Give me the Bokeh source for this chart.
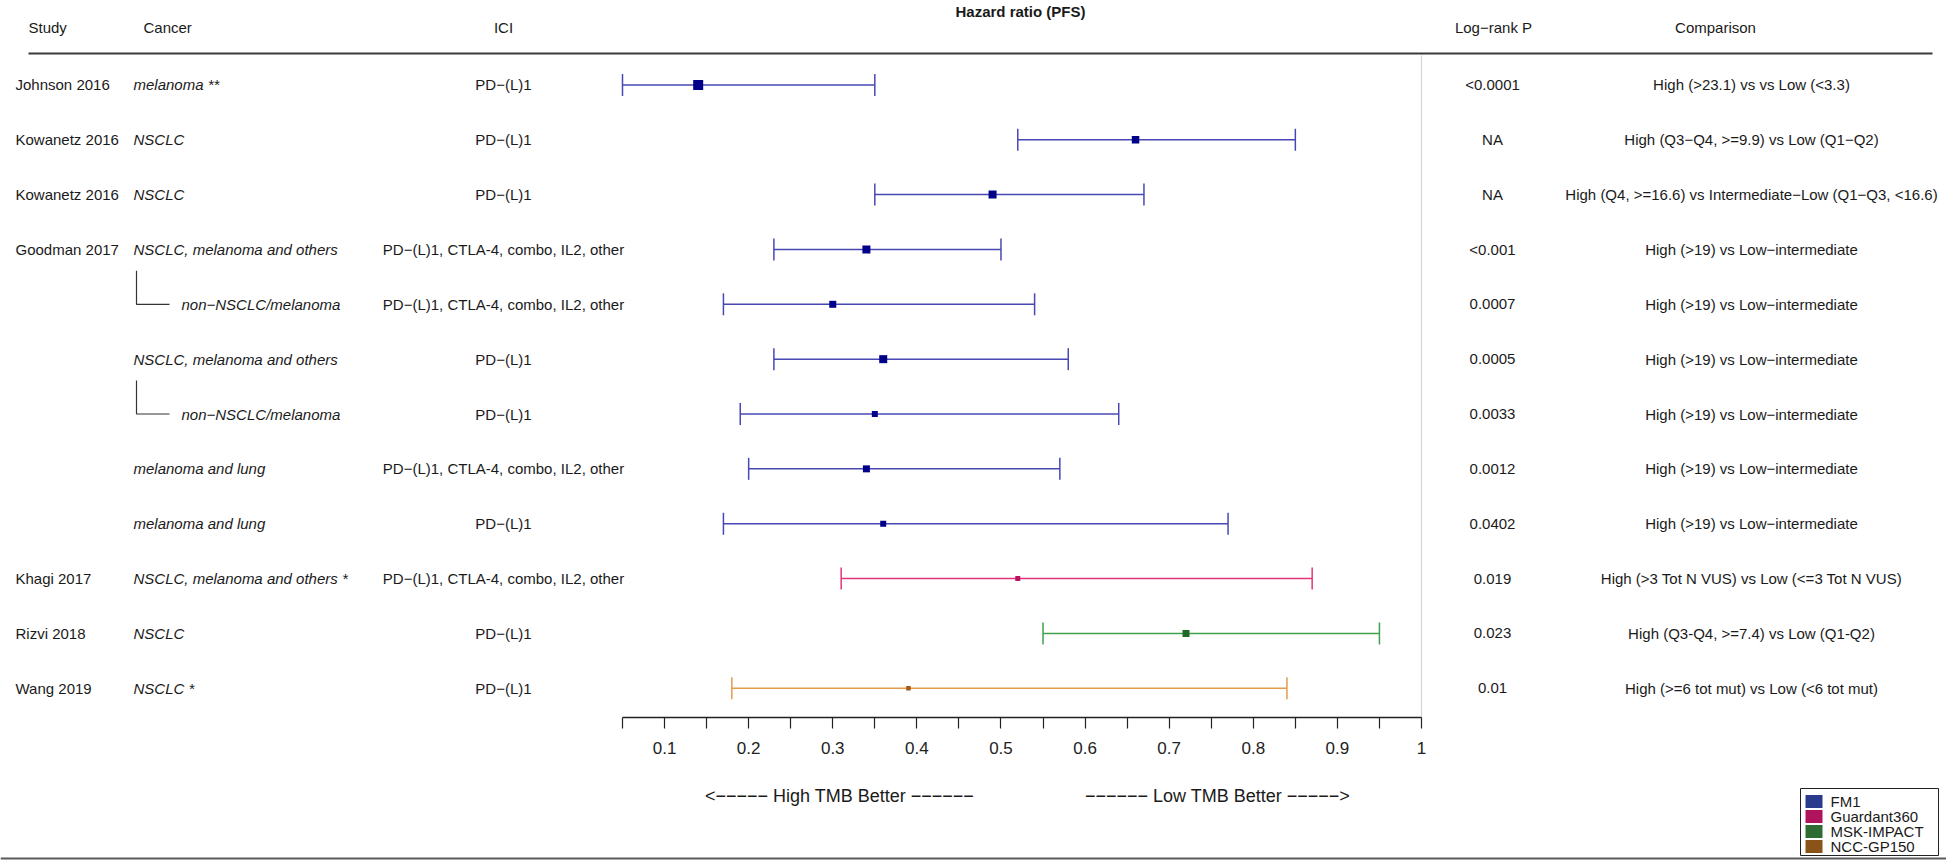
from bokeh.plotting import figure
from bokeh.models import (ColumnDataSource, Range1d, LinearAxis, FixedTicker,
                          CustomJSTickFormatter)
from bokeh.layouts import column
from bokeh.embed import file_html
from bokeh.resources import INLINE
from bokeh.core.properties import value

# ---------------- data ----------------
study = ["Johnson 2016", "Kowanetz 2016", "Kowanetz 2016", "Goodman 2017", "", "", "", "", "",
         "Khagi 2017", "Rizvi 2018", "Wang 2019"]
cancer = ["melanoma **", "NSCLC", "NSCLC", "NSCLC, melanoma and others", "non\u2212NSCLC/melanoma",
          "NSCLC, melanoma and others", "non\u2212NSCLC/melanoma", "melanoma and lung",
          "melanoma and lung", "NSCLC, melanoma and others *", "NSCLC", "NSCLC *"]
subgroup = [False, False, False, False, True, False, True, False, False, False, False, False]
ici = ["PD\u2212(L)1", "PD\u2212(L)1", "PD\u2212(L)1",
       "PD\u2212(L)1, CTLA-4, combo, IL2, other", "PD\u2212(L)1, CTLA-4, combo, IL2, other",
       "PD\u2212(L)1", "PD\u2212(L)1", "PD\u2212(L)1, CTLA-4, combo, IL2, other", "PD\u2212(L)1",
       "PD\u2212(L)1, CTLA-4, combo, IL2, other", "PD\u2212(L)1", "PD\u2212(L)1"]
hr = [0.14, 0.66, 0.49, 0.34, 0.30, 0.36, 0.35, 0.34, 0.36, 0.52, 0.72, 0.39]
lower = [0.05, 0.52, 0.35, 0.23, 0.17, 0.23, 0.19, 0.20, 0.17, 0.31, 0.55, 0.18]
upper = [0.35, 0.85, 0.67, 0.50, 0.54, 0.58, 0.64, 0.57, 0.77, 0.87, 0.95, 0.84]
pvalue = ["<0.0001", "NA", "NA", "<0.001", "0.0007", "0.0005", "0.0033", "0.0012", "0.0402",
          "0.019", "0.023", "0.01"]
comparison = ["High (>23.1) vs vs Low (<3.3)",
              "High (Q3\u2212Q4, >=9.9) vs Low (Q1\u2212Q2)",
              "High (Q4, >=16.6) vs Intermediate\u2212Low (Q1\u2212Q3, <16.6)",
              "High (>19) vs Low\u2212intermediate", "High (>19) vs Low\u2212intermediate",
              "High (>19) vs Low\u2212intermediate", "High (>19) vs Low\u2212intermediate",
              "High (>19) vs Low\u2212intermediate", "High (>19) vs Low\u2212intermediate",
              "High (>3 Tot N VUS) vs Low (<=3 Tot N VUS)",
              "High (Q3-Q4, >=7.4) vs Low (Q1-Q2)",
              "High (>=6 tot mut) vs Low (<6 tot mut)"]
panel = ["FM1"] * 9 + ["Guardant360", "MSK-IMPACT", "NCC-GP150"]
panels = ["FM1", "Guardant360", "MSK-IMPACT", "NCC-GP150"]
headers = ["Study", "Cancer", "ICI", "Log\u2212rank P", "Comparison"]
plot_title = "Hazard ratio (PFS)"
tick_values = [0.1, 0.2, 0.3, 0.4, 0.5, 0.6, 0.7, 0.8, 0.9, 1.0]
tick_labels = ["0.1", "0.2", "0.3", "0.4", "0.5", "0.6", "0.7", "0.8", "0.9", "1"]
minor_tick_values = [0.05, 0.15, 0.25, 0.35, 0.45, 0.55, 0.65, 0.75, 0.85, 0.95]
axis_bounds = (0.05, 1.0)
null_hr = 1.0
arrow_labels = ["<\u2212\u2212\u2212\u2212\u2212  High TMB Better  \u2212\u2212\u2212\u2212\u2212\u2212",
                "\u2212\u2212\u2212\u2212\u2212\u2212  Low TMB Better  \u2212\u2212\u2212\u2212\u2212>"]

# ---------------- styles ----------------
FONT = "Liberation Sans"
TXT = "#1a1a1a"
line_colors = {"FM1": "#4848B4", "Guardant360": "#E2357C", "MSK-IMPACT": "#3FA24A", "NCC-GP150": "#E69A4C"}
box_colors = {"FM1": "#000088", "Guardant360": "#B3155E", "MSK-IMPACT": "#1D6B25", "NCC-GP150": "#A35A14"}
legend_colors = {"FM1": "#2A3A8C", "Guardant360": "#AF145C", "MSK-IMPACT": "#2D6C32", "NCC-GP150": "#8A5418"}
box_px = [10, 7.5, 8, 8, 7, 8, 6, 7, 6, 5, 7, 4.5]

# ---------------- layout geometry (page pixels) ----------------
W = 1946
H = 864
AXIS_Y = 717
BB = 50
HA = AXIS_Y + BB
HB = H - HA
AX_L, AX_R = 622.0, 1421.0            # page px of axis bounds
PXU = (AX_R - AX_L) / (axis_bounds[1] - axis_bounds[0])
X0 = axis_bounds[0] - AX_L / PXU
X1 = X0 + W / PXU
ROW1_Y, ROW_STEP = 84.4, 54.85


def fx(px):
    return X0 + px / PXU


def fy(py):
    return 1 + (py - ROW1_Y) / ROW_STEP


R_TOP = fy(0)
R_BOT = fy(AXIS_Y)
CAP = 11.0 / ROW_STEP

n = len(hr)
rows = list(range(1, n + 1))
src = ColumnDataSource(dict(
    row=rows, hr=hr, lower=lower, upper=upper,
    cap_lo=[r - CAP for r in rows], cap_hi=[r + CAP for r in rows],
    lc=[line_colors[p] for p in panel], bc=[box_colors[p] for p in panel],
    box=box_px, study=study, cancer=cancer,
    cancer_x=[fx(181) if s else fx(133) for s in subgroup],
    ici=ici, pvalue=pvalue, comparison=comparison,
))

xr = Range1d(X0, X1)
pa = figure(width=W, height=HA, x_range=xr, y_range=Range1d(R_BOT, R_TOP),
            output_backend="svg", toolbar_location=None,
            x_axis_location=None, y_axis_location=None,
            min_border_left=0, min_border_right=0, min_border_top=0, min_border_bottom=BB,
            outline_line_color=None, background_fill_color="white", border_fill_color="white")
pa.grid.visible = False

# header rule and null line
pa.segment(x0=[fx(28)], x1=[fx(1932)], y0=[fy(53)], y1=[fy(53)], line_color="#3a3a3a", line_width=1.8)
pa.segment(x0=[null_hr], x1=[null_hr], y0=[fy(55)], y1=[R_BOT], line_color="#d4d4d4", line_width=1.2)

# confidence intervals
pa.segment(x0="lower", x1="upper", y0="row", y1="row", line_color="lc", line_width=1.5, source=src)
pa.segment(x0="lower", x1="lower", y0="cap_lo", y1="cap_hi", line_color="lc", line_width=1.5, source=src)
pa.segment(x0="upper", x1="upper", y0="cap_lo", y1="cap_hi", line_color="lc", line_width=1.5, source=src)
pa.scatter(x="hr", y="row", size="box", marker="square", fill_color="bc", line_color=None, source=src)

# subgroup brackets
sub_rows = [r for r, s in zip(rows, subgroup) if s]
pa.multi_line(xs=[[fx(136), fx(136), fx(169)] for r in sub_rows],
              ys=[[r - 0.61, r, r] for r in sub_rows], line_color="#333333", line_width=1.2)

tk = dict(text_font=value(FONT), text_font_size="15px", text_color=TXT, text_baseline="middle")
pa.text(x=fx(15), y="row", text="study", text_align="left", source=src, **tk)
pa.text(x="cancer_x", y="row", text="cancer", text_align="left", text_font_style="italic", source=src, **tk)
pa.text(x=fx(503), y="row", text="ici", text_align="center", source=src, **tk)
pa.text(x=fx(1492), y="row", text="pvalue", text_align="center", source=src, **tk)
pa.text(x=fx(1751), y="row", text="comparison", text_align="center", source=src, **tk)

# headers
pa.text(x=[fx(28), fx(143), fx(503), fx(1493), fx(1715)], y=[fy(27)] * 5, text=headers,
        text_align=["left", "left", "center", "center", "center"], **tk)
pa.text(x=[fx(1020)], y=[fy(11)], text=[plot_title], text_align="center",
        text_font_style="bold", **tk)

axis = LinearAxis(
    bounds=axis_bounds,
    ticker=FixedTicker(ticks=tick_values, minor_ticks=minor_tick_values),
    formatter=CustomJSTickFormatter(args=dict(vals=tick_values, labs=tick_labels),
                                    code="const i = vals.findIndex(v => Math.abs(v - tick) < 1e-9);"
                                         " return i >= 0 ? labs[i] : '';"),
    axis_line_color="#222222", axis_line_width=1.5,
    major_tick_line_color="#222222", major_tick_line_width=1.2, major_tick_in=0, major_tick_out=11,
    minor_tick_line_color="#222222", minor_tick_line_width=1.2, minor_tick_in=0, minor_tick_out=11,
    major_label_text_font=FONT, major_label_text_font_size="17px", major_label_text_color="#222222",
    major_label_standoff=13,
)
pa.add_layout(axis, "below")

# ---------------- bottom strip ----------------
pb = figure(width=W, height=HB, x_range=xr, y_range=Range1d(HB, 0),
            output_backend="svg", toolbar_location=None,
            x_axis_location=None, y_axis_location=None,
            min_border_left=0, min_border_right=0, min_border_top=0, min_border_bottom=0,
            outline_line_color=None, background_fill_color="white", border_fill_color="white")
pb.grid.visible = False
pb.text(x=[fx(844), fx(1222)], y=[795 - HA] * 2, text=arrow_labels, text_align="center",
        text_baseline="middle", text_font=value(FONT), text_font_size="18px", text_color=TXT)
pb.segment(x0=[X0], x1=[X1], y0=[858 - HA], y1=[858 - HA], line_color="#5a5a5a", line_width=2)

# legend (drawn as a keyed box)
LEG_TOP, LEG_BOT = 788 - HA, 855 - HA
leg_y = [801 - HA + 15 * i for i in range(len(panels))]
pb.quad(left=[fx(1800)], right=[fx(1938)], top=[LEG_TOP], bottom=[LEG_BOT],
        fill_color="white", line_color="#222222", line_width=1)
pb.rect(x=[fx(1813.5)] * len(panels), y=leg_y, width=17 / PXU, height=13,
        fill_color=[legend_colors[p] for p in panels], line_color=None)
pb.text(x=[fx(1830)] * len(panels), y=leg_y, text=panels, text_align="left", text_baseline="middle",
        text_font=value(FONT), text_font_size="15px", text_color=TXT)

layout = column(pa, pb, spacing=0)
open("out.html", "w").write(file_html(layout, INLINE))
